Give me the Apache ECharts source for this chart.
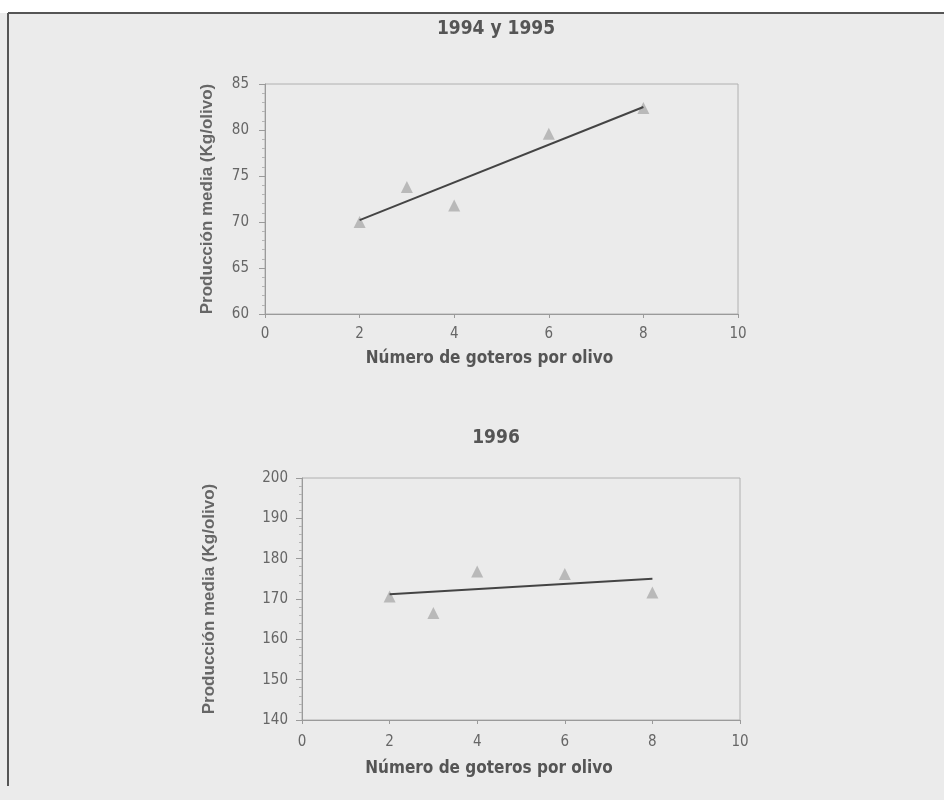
<!DOCTYPE html>
<html><head><meta charset="utf-8">
<script src="https://cdn.jsdelivr.net/npm/echarts@6/dist/echarts.min.js"></script>
<style>html,body{margin:0;padding:0;background:#fff}#c{width:944px;height:800px}</style>
</head><body><div id="c"></div>
<script>
const goteros = [2, 3, 4, 6, 8];
const prod9495 = [70.0, 73.8, 71.8, 79.6, 82.4];
const prod96 = [170.6, 166.5, 176.8, 176.2, 171.6];
const trendX = [2, 8];
const trend9495 = [70.2, 82.5];
const trend96 = [171.2, 175.0];
const xTicks1 = [0, 10, 2];
const yTicks1 = [60, 85, 5];
const yTicks2 = [140, 200, 10];

const condensed = '"Liberation Sans Narrow", "DejaVu Sans Condensed", "Roboto Condensed", sans-serif';
const txt = '#555';
const axisCol = '#9a9a9a';

function pts(xs, ys) { return xs.map((x, i) => [x, ys[i]]); }

function xAxis(gi, padR, gap, margin) {
  return {
    gridIndex: gi, type: 'value', min: xTicks1[0], max: xTicks1[1], interval: xTicks1[2],
    name: 'Número de goteros por olivo', nameLocation: 'middle', nameGap: gap,
    nameTextStyle: { fontFamily: condensed, fontSize: 17, fontWeight: 'bold', color: txt, padding: [0, padR, 0, 0] },
    axisLine: { onZero: false, lineStyle: { color: axisCol, width: 1 } },
    axisTick: { show: true, inside: false, length: 4, lineStyle: { color: axisCol } },
    axisLabel: { fontFamily: condensed, fontSize: 15, color: '#666', margin: margin },
    splitLine: { show: false }
  };
}
function yAxis(gi, t, gap, margin) {
  return {
    gridIndex: gi, type: 'value', min: t[0], max: t[1], interval: t[2],
    name: 'Producción media (Kg/olivo)', nameLocation: 'middle', nameGap: gap,
    nameTextStyle: { fontFamily: 'Liberation Sans, Arial, sans-serif', fontSize: 17, fontWeight: 'bold', color: '#666' },
    axisLine: { show: true, onZero: false, lineStyle: { color: axisCol, width: 1 } },
    axisTick: { show: true, length: 6, lineStyle: { color: axisCol } },
    minorTick: { show: true, splitNumber: 5, length: 3, lineStyle: { color: '#b5b5b5' } },
    axisLabel: { fontFamily: condensed, fontSize: 15, color: '#666', margin: margin },
    splitLine: { show: false }
  };
}

const chart = echarts.init(document.getElementById('c'), null, { renderer: 'canvas' });
chart.setOption({
  backgroundColor: '#ebebeb',
  animation: false,
  title: [
    { text: '1994 y 1995', left: 491, top: 15, textAlign: 'center',
      textStyle: { fontFamily: condensed, fontSize: 19, fontWeight: 'bold', color: txt } },
    { text: '1996', left: 491, top: 424, textAlign: 'center',
      textStyle: { fontFamily: condensed, fontSize: 19, fontWeight: 'bold', color: txt } }
  ],
  grid: [
    { left: 265, right: 206, top: 84, bottom: 486, show: true, borderColor: '#b0b0b0', borderWidth: 1, backgroundColor: 'transparent' },
    { left: 302, right: 204, top: 478, bottom: 80, show: true, borderColor: '#b0b0b0', borderWidth: 1, backgroundColor: 'transparent' }
  ],
  xAxis: [xAxis(0, 24, 36, 13), xAxis(1, 64, 40, 15)],
  yAxis: [yAxis(0, yTicks1, 49, 16), yAxis(1, yTicks2, 84, 14)],
  series: [
    { type: 'scatter', xAxisIndex: 0, yAxisIndex: 0, symbol: 'triangle', symbolSize: 12,
      itemStyle: { color: '#adadad' }, data: pts(goteros, prod9495) },
    { type: 'line', xAxisIndex: 0, yAxisIndex: 0, symbol: 'none',
      lineStyle: { color: '#444', width: 2 }, data: pts(trendX, trend9495) },
    { type: 'scatter', xAxisIndex: 1, yAxisIndex: 1, symbol: 'triangle', symbolSize: 12,
      itemStyle: { color: '#adadad' }, data: pts(goteros, prod96) },
    { type: 'line', xAxisIndex: 1, yAxisIndex: 1, symbol: 'none',
      lineStyle: { color: '#444', width: 2 }, data: pts(trendX, trend96) }
  ],
  graphic: [
    { type: 'rect', left: 0, top: 0, shape: { width: 944, height: 13 }, style: { fill: '#ffffff' }, silent: true },
    { type: 'line', shape: { x1: 8, y1: 13, x2: 944, y2: 13 }, style: { stroke: '#555', lineWidth: 2 }, silent: true },
    { type: 'line', shape: { x1: 8, y1: 13, x2: 8, y2: 786 }, style: { stroke: '#555', lineWidth: 2 }, silent: true }
  ]
});
</script></body></html>
